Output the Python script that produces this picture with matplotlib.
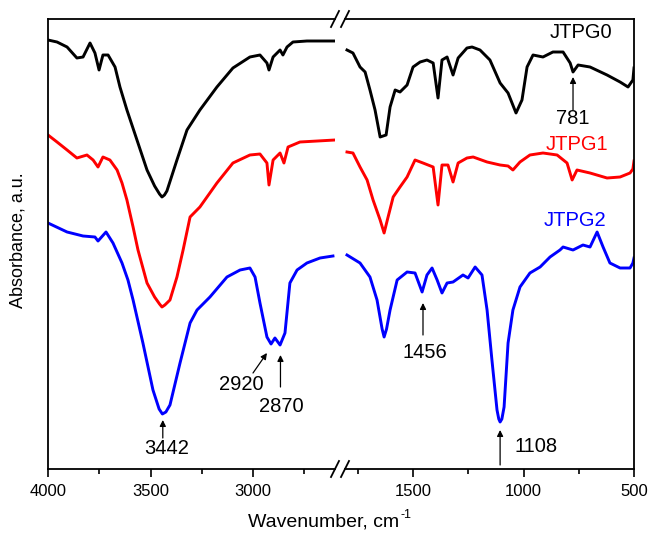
import matplotlib
matplotlib.use("Agg")
import matplotlib.pyplot as plt
from matplotlib.ticker import MultipleLocator

plt.rcParams['font.family'] = ['Liberation Sans', 'DejaVu Sans']

# ---------------- data (wavenumber cm-1, absorbance a.u. with offsets) ----------------
# high-wavenumber segment (4000-2600)
g0_hi_wn = [4000, 3956, 3907, 3859, 3829, 3795, 3771, 3751, 3732, 3707, 3673, 3649, 3615, 3566,
            3517, 3480, 3456, 3444, 3432, 3420, 3371, 3322, 3259, 3176, 3098, 3015, 2966, 2932,
            2922, 2902, 2868, 2854, 2834, 2805, 2737, 2600]
g0_hi_ab = [429, 427, 422, 411, 412, 426, 416, 399, 414, 414, 402, 382, 359, 329,
            299, 283, 275, 272, 274, 278, 309, 339, 359, 382, 401, 412, 414, 406,
            399, 412, 419, 414, 422, 427, 428, 428]

g1_hi_wn = [4000, 3956, 3907, 3859, 3810, 3780, 3756, 3732, 3698, 3663, 3639, 3615, 3585, 3561,
            3517, 3480, 3456, 3444, 3430, 3405, 3371, 3341, 3307, 3259, 3176, 3098, 3015, 2966,
            2932, 2922, 2902, 2868, 2849, 2829, 2771, 2600]
g1_hi_ab = [334, 327, 319, 311, 314, 309, 302, 312, 309, 299, 286, 269, 242, 219,
            186, 172, 165, 162, 164, 169, 192, 219, 252, 262, 286, 306, 314, 315,
            306, 284, 309, 316, 306, 322, 327, 329]

g2_hi_wn = [4000, 3907, 3829, 3771, 3756, 3717, 3683, 3639, 3610, 3585, 3537, 3488, 3458, 3442,
            3425, 3405, 3356, 3307, 3273, 3210, 3127, 3063, 3015, 2990, 2966, 2932, 2912, 2893,
            2868, 2844, 2820, 2785, 2737, 2673, 2610]
g2_hi_ab = [246, 237, 233, 232, 228, 237, 226, 206, 189, 169, 126, 79, 60, 55,
            57, 64, 106, 146, 159, 172, 192, 199, 201, 192, 166, 132, 125, 131,
            124, 136, 186, 199, 206, 211, 213]

# low-wavenumber segment (1800-500)
g0_lo_wn = [1799, 1772, 1740, 1717, 1695, 1672, 1649, 1622, 1604, 1581, 1559, 1527, 1500, 1468,
            1437, 1409, 1387, 1369, 1346, 1319, 1296, 1256, 1233, 1197, 1152, 1106, 1070, 1034,
            1007, 984, 957, 912, 867, 821, 789, 776, 753, 699, 622, 563, 527, 505, 500]
g0_lo_ab = [419, 416, 402, 397, 379, 359, 332, 334, 362, 379, 377, 384, 402, 407,
            409, 406, 371, 409, 412, 394, 411, 421, 422, 419, 409, 386, 376, 356,
            369, 402, 414, 412, 417, 417, 406, 397, 404, 402, 394, 387, 382, 389, 401]

g1_lo_wn = [1799, 1772, 1740, 1708, 1681, 1649, 1631, 1613, 1590, 1559, 1527, 1491, 1455, 1409,
            1387, 1369, 1342, 1319, 1296, 1256, 1228, 1165, 1106, 1070, 1048, 1016, 971, 912,
            848, 803, 780, 758, 699, 622, 563, 518, 505, 500]
g1_lo_ab = [317, 316, 302, 289, 269, 249, 236, 252, 272, 282, 292, 309, 306, 302,
            264, 304, 304, 287, 306, 311, 312, 307, 304, 303, 299, 307, 314, 316,
            314, 306, 289, 299, 296, 291, 292, 296, 300, 308]

g2_lo_wn = [1799, 1740, 1695, 1663, 1640, 1631, 1620, 1604, 1572, 1527, 1491, 1459, 1437, 1414,
            1391, 1369, 1346, 1319, 1274, 1251, 1219, 1188, 1165, 1143, 1120, 1112, 1106, 1098,
            1088, 1070, 1048, 1016, 971, 925, 880, 835, 821, 776, 731, 699, 667, 640, 609, 563,
            518, 505, 500]
g2_lo_ab = [214, 206, 192, 169, 140, 132, 140, 159, 189, 197, 196, 177, 194, 201,
            189, 176, 186, 187, 194, 191, 202, 194, 159, 109, 59, 50, 47, 50,
            62, 126, 159, 182, 196, 202, 212, 219, 222, 219, 224, 222, 237, 222, 206, 201,
            201, 206, 211]

series_names = ["JTPG0", "JTPG1", "JTPG2"]
series_colors = ["#000000", "#ff0000", "#0000ff"]

# peak annotations: (label, peak wavenumber, arrow tail, arrow head, text x, text y)
peaks_hi = [("3442", 3440, 31, 49, 3420, 21),
            ("2870", 2866, 82, 114, 2863, 63)]
peaks_lo = [("1456", 1455, 134, 166, 1446, 117),
            ("781", 776, 359, 392, 778, 351)]

# ---------------- figure ----------------
fig = plt.figure(figsize=(6.5, 5.36), dpi=100)
W, H = 650, 536
ax1 = fig.add_axes([48 / W, 67 / H, (335 - 48) / W, 450 / H])
ax2 = fig.add_axes([345 / W, 67 / H, (634 - 345) / W, 450 / H])

hi = [(g0_hi_wn, g0_hi_ab), (g1_hi_wn, g1_hi_ab), (g2_hi_wn, g2_hi_ab)]
lo = [(g0_lo_wn, g0_lo_ab), (g1_lo_wn, g1_lo_ab), (g2_lo_wn, g2_lo_ab)]
for (x, y), c in zip(hi, series_colors):
    ax1.plot(x, y, color=c, lw=2.1, solid_joinstyle='round')
for (x, y), c in zip(lo, series_colors):
    ax2.plot(x, y, color=c, lw=2.1, solid_joinstyle='round')

ax1.set_xlim(4000, 2600)
ax2.set_xlim(1808, 500)
for ax in (ax1, ax2):
    ax.set_ylim(0, 450)
    ax.set_yticks([])
    ax.xaxis.set_major_locator(MultipleLocator(500))
    ax.xaxis.set_minor_locator(MultipleLocator(250))
    ax.tick_params(axis='x', which='major', direction='out', length=6, width=1.2,
                   labelsize=12, pad=5)
    ax.tick_params(axis='x', which='minor', direction='out', length=3.5, width=1.2)
    for s in ax.spines.values():
        s.set_linewidth(1.3)
ax1.spines['right'].set_visible(False)
ax2.spines['left'].set_visible(False)
ax1.set_xticks([4000, 3500, 3000])
ax1.set_xticklabels(["4000", "3500", "3000"])
ax2.set_xticks([1500, 1000, 500])
ax2.set_xticklabels(["1500", "1000", "500"])

# break marks
for xc in (335, 345):
    for yc in (469, 19):
        fig.add_artist(plt.Line2D([(xc - 4) / W, (xc + 4) / W],
                                  [(H - yc - 8) / H, (H - yc + 8) / H],
                                  color='black', lw=1.3, transform=fig.transFigure))

# axis labels
xl = fig.text(248 / W, 1 - 522 / H, "Wavenumber, cm", ha='left', va='center', fontsize=14)
fig.canvas.draw()
bb = xl.get_window_extent()
fig.text((bb.x1 + 1) / W, (bb.y1 - 2) / H, "-1", ha='left', va='center', fontsize=9)
fig.text(18 / W, 1 - 240 / H, "Absorbance, a.u.", ha='center', va='center',
         rotation=90, fontsize=13)

# series labels
label_pos = [(742, 436), (756, 324), (765, 249)]
for name, c, (lx, ly) in zip(series_names, series_colors, label_pos):
    ax2.text(lx, ly, name, color=c, fontsize=14.5, ha='center', va='center')

arrow_kw = dict(arrowstyle='-|>', color='black', lw=0.9, mutation_scale=9,
                shrinkA=0, shrinkB=0)
for lab, px, yt, yh, tx, ty in peaks_hi:
    ax1.annotate("", xy=(px, yh), xytext=(px, yt), arrowprops=arrow_kw)
    ax1.text(tx, ty, lab, fontsize=14.5, ha='center', va='center')
for lab, px, yt, yh, tx, ty in peaks_lo:
    ax2.annotate("", xy=(px, yh), xytext=(px, yt), arrowprops=arrow_kw)
    ax2.text(tx, ty, lab, fontsize=14.5, ha='center', va='center')

# 2920 shoulder: oblique arrow
ax1.annotate("", xy=(2932, 116), xytext=(3000, 96), arrowprops=arrow_kw)
ax1.text(3059, 84, "2920", fontsize=14.5, ha='center', va='center')
# 1108 band
ax2.annotate("", xy=(1106, 39), xytext=(1106, 4), arrowprops=arrow_kw)
ax2.text(943, 22, "1108", fontsize=14.5, ha='center', va='center')

fig.savefig("out.png", dpi=100)
